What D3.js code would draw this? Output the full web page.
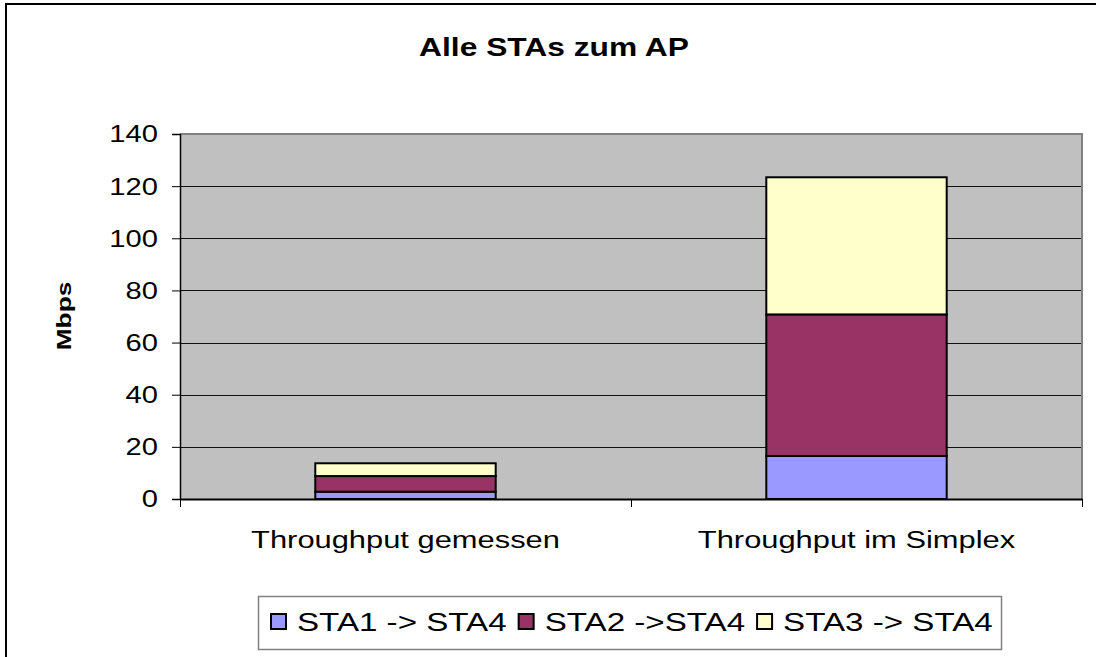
<!DOCTYPE html>
<html>
<head>
<meta charset="utf-8">
<script src="https://cdn.jsdelivr.net/npm/d3@7"></script>
<style>
html,body{margin:0;padding:0;background:#fff;}
svg{display:block;}
text{font-family:"Liberation Sans",Arial,sans-serif;fill:#000;}
</style>
</head>
<body>
<svg id="chart" width="1096" height="657"></svg>
<script>
const categories = ["Throughput gemessen", "Throughput im Simplex"];
const seriesNames = ["STA1 -> STA4", "STA2 ->STA4", "STA3 -> STA4"];
const sta1 = [2.8, 16.5];
const sta2 = [6.0, 54.3];
const sta3 = [4.9, 52.6];
const seriesColors = ["#9999FF", "#993366", "#FFFFCC"];
const yTicks = [0, 20, 40, 60, 80, 100, 120, 140];
const titleText = "Alle STAs zum AP";
const yLabel = "Mbps";

const svg = d3.select("#chart");
const W = 1096, H = 657;
const plot = {left: 180, right: 1082, top: 134, bottom: 499};

// outer frame (extends beyond right/bottom edge)
svg.append("rect").attr("x", 6).attr("y", 4).attr("width", W + 20).attr("height", H + 20)
  .attr("fill", "#fff").attr("stroke", "#000").attr("stroke-width", 2);

const x = d3.scaleBand().domain(categories).range([plot.left, plot.right])
  .paddingInner(0.6).paddingOuter(0.3);
const y = d3.scaleLinear().domain([0, 140]).range([plot.bottom, plot.top]);

// plot background
svg.append("rect").attr("x", plot.left).attr("y", plot.top)
  .attr("width", plot.right - plot.left).attr("height", plot.bottom - plot.top)
  .attr("fill", "#C0C0C0");

// gridlines
svg.append("g").selectAll("line").data(yTicks.filter(t => t > 0 && t < 140)).join("line")
  .attr("x1", plot.left).attr("x2", plot.right)
  .attr("y1", d => Math.round(y(d)) + 0.5).attr("y2", d => Math.round(y(d)) + 0.5)
  .attr("stroke", "#111").attr("stroke-width", 1);

// top & right border
svg.append("path")
  .attr("d", `M${plot.left},${plot.top} H${plot.right} V${plot.bottom}`)
  .attr("fill", "none").attr("stroke", "#808080").attr("stroke-width", 2);

// stacked bars
const rows = categories.map((c, i) => ({cat: c, s0: sta1[i], s1: sta2[i], s2: sta3[i]}));
const stack = d3.stack().keys(["s0", "s1", "s2"]);
const layers = stack(rows);
svg.append("g").selectAll("g").data(layers).join("g")
  .attr("fill", (d, i) => seriesColors[i])
  .selectAll("rect").data(d => d).join("rect")
  .attr("x", d => x(d.data.cat))
  .attr("width", x.bandwidth())
  .attr("y", d => y(d[1]))
  .attr("height", d => y(d[0]) - y(d[1]))
  .attr("stroke", "#000").attr("stroke-width", 2);

// y axis
const yAxis = d3.axisLeft(y).tickValues(yTicks).tickSize(8).tickFormat("");
const gy = svg.append("g").attr("transform", `translate(${plot.left},0)`).call(yAxis);
gy.select(".domain").attr("stroke", "#000").attr("stroke-width", 1.5);
gy.selectAll(".tick line").attr("stroke", "#000").attr("stroke-width", 1);
gy.selectAll(".tick").each(function(d) {
  d3.select(this).append("text")
    .attr("transform", `translate(-22,0) scale(1.24,1)`)
    .attr("text-anchor", "end").attr("dominant-baseline", "central")
    .style("font-size", "23.5px").text(d);
});

// x axis
const xAxis = d3.axisBottom(x).tickSize(0).tickFormat("");
const gx = svg.append("g").attr("transform", `translate(0,${plot.bottom})`).call(xAxis);
gx.select(".domain").attr("stroke", "#000").attr("stroke-width", 2);
// category boundary ticks
const bounds = [plot.left, (plot.left + plot.right) / 2, plot.right];
svg.append("g").selectAll("line").data(bounds).join("line")
  .attr("x1", d => Math.round(d) + 0.5).attr("x2", d => Math.round(d) + 0.5)
  .attr("y1", plot.bottom).attr("y2", plot.bottom + 8)
  .attr("stroke", "#000").attr("stroke-width", 1);
svg.append("g").selectAll("text").data(categories).join("text")
  .attr("transform", d => `translate(${x(d) + x.bandwidth() / 2},548) scale(1.26,1)`)
  .attr("text-anchor", "middle")
  .style("font-size", "24.5px").text(d => d);

// title
svg.append("text")
  .attr("transform", `translate(554,56) scale(1.27,1)`)
  .attr("text-anchor", "middle").style("font-weight", "bold")
  .style("font-size", "25px").text(titleText);

// y label
svg.append("text")
  .attr("transform", `translate(71,316) rotate(-90) scale(1.25,1)`)
  .attr("text-anchor", "middle").style("font-weight", "bold")
  .style("font-size", "21px").text(yLabel);

// legend
const leg = {x: 258, y: 596, w: 743, h: 53};
svg.append("rect").attr("x", leg.x + 0.5).attr("y", leg.y + 0.5)
  .attr("width", leg.w).attr("height", leg.h)
  .attr("fill", "#fff").attr("stroke", "#808080").attr("stroke-width", 1.5);
let cx = 271;
const legY = 622;
seriesNames.forEach((name, i) => {
  svg.append("rect").attr("x", cx).attr("y", legY - 8).attr("width", 15).attr("height", 15)
    .attr("fill", seriesColors[i]).attr("stroke", "#000").attr("stroke-width", 2);
  const t = svg.append("text")
    .attr("transform", `translate(${cx + 26},${legY}) scale(1.3,1)`)
    .attr("dominant-baseline", "central")
    .style("font-size", "25.5px").text(name);
  const w = t.node().getComputedTextLength() * 1.3;
  cx += 26 + w + 12;
});
</script>
</body>
</html>
